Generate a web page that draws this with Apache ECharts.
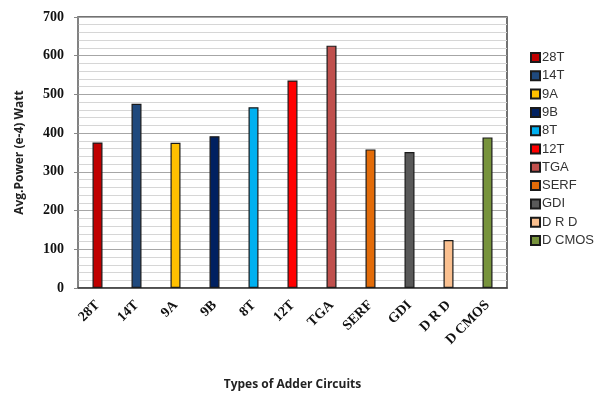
<!DOCTYPE html>
<html>
<head>
<meta charset="utf-8">
<script src="https://cdn.jsdelivr.net/npm/echarts@6/dist/echarts.min.js"></script>
<style>
  html, body { margin: 0; padding: 0; background: #fff; }
  #chart { width: 597px; height: 396px; }
</style>
</head>
<body>
<div id="chart"></div>
<script>
var circuits = ['28T', '14T', '9A', '9B', '8T', '12T', 'TGA', 'SERF', 'GDI', 'D R D', 'D CMOS'];
var avgPower = [376, 476, 375, 392, 467, 536, 626, 358, 351, 124, 389];
var barColors = ['#C00000', '#1F497D', '#FFC000', '#002060', '#00B0F0', '#FF0000',
    '#C0504D', '#E36C09', '#595959', '#FAC090', '#77933C'];

var series = circuits.map(function (name, i) {
    var data = circuits.map(function (c, j) { return j === i ? avgPower[i] : null; });
    return {
        name: name,
        type: 'bar',
        stack: 'all',
        barWidth: 10,
        itemStyle: {
            color: barColors[i],
            borderColor: '#1a1a1a',
            borderWidth: 1.2
        },
        data: data
    };
});

var chart = echarts.init(document.getElementById('chart'));
chart.setOption({
    animation: false,
    grid: {
        left: 78,
        right: 90,
        top: 17,
        bottom: 104,
        show: true,
        borderColor: '#444',
        borderWidth: 1.5
    },
    legend: {
        orient: 'vertical',
        left: 525,
        top: 46,
        itemWidth: 9,
        itemHeight: 9,
        itemGap: 5.3,
        icon: 'rect',
        textStyle: { fontFamily: 'Liberation Sans', fontSize: 13, color: '#333', padding: [0, 0, 0, -3] },
        data: circuits
    },
    xAxis: {
        type: 'category',
        data: circuits,
        name: 'Types of Adder Circuits',
        nameLocation: 'middle',
        nameGap: 91,
        nameTextStyle: { fontFamily: 'Open Sans', fontWeight: 'bold', fontSize: 12, color: '#222' },
        axisLine: { lineStyle: { color: '#444', width: 1.5 } },
        axisTick: { show: false },
        axisLabel: {
            rotate: 45,
            interval: 0,
            margin: 15,
            fontFamily: 'Liberation Serif',
            fontWeight: 'bold',
            fontSize: 14,
            color: '#111'
        }
    },
    yAxis: {
        type: 'value',
        min: 0,
        max: 700,
        interval: 100,
        name: 'Avg.Power (e-4) Watt',
        nameLocation: 'middle',
        nameGap: 52,
        nameTextStyle: { fontFamily: 'Open Sans', fontWeight: 'bold', fontSize: 12, color: '#222' },
        axisLine: { show: true, lineStyle: { color: '#888', width: 1.5 } },
        axisTick: { show: true, length: 4, lineStyle: { color: '#888' } },
        axisLabel: {
            margin: 14,
            fontFamily: 'Liberation Serif',
            fontWeight: 'bold',
            fontSize: 14,
            color: '#111'
        },
        splitLine: { lineStyle: { color: '#a6a6a6', width: 1.2 } },
        minorTick: { show: false, splitNumber: 5 },
        minorSplitLine: { show: true, lineStyle: { color: '#d6d6d6', width: 1 } }
    },
    series: series
});
</script>
</body>
</html>
